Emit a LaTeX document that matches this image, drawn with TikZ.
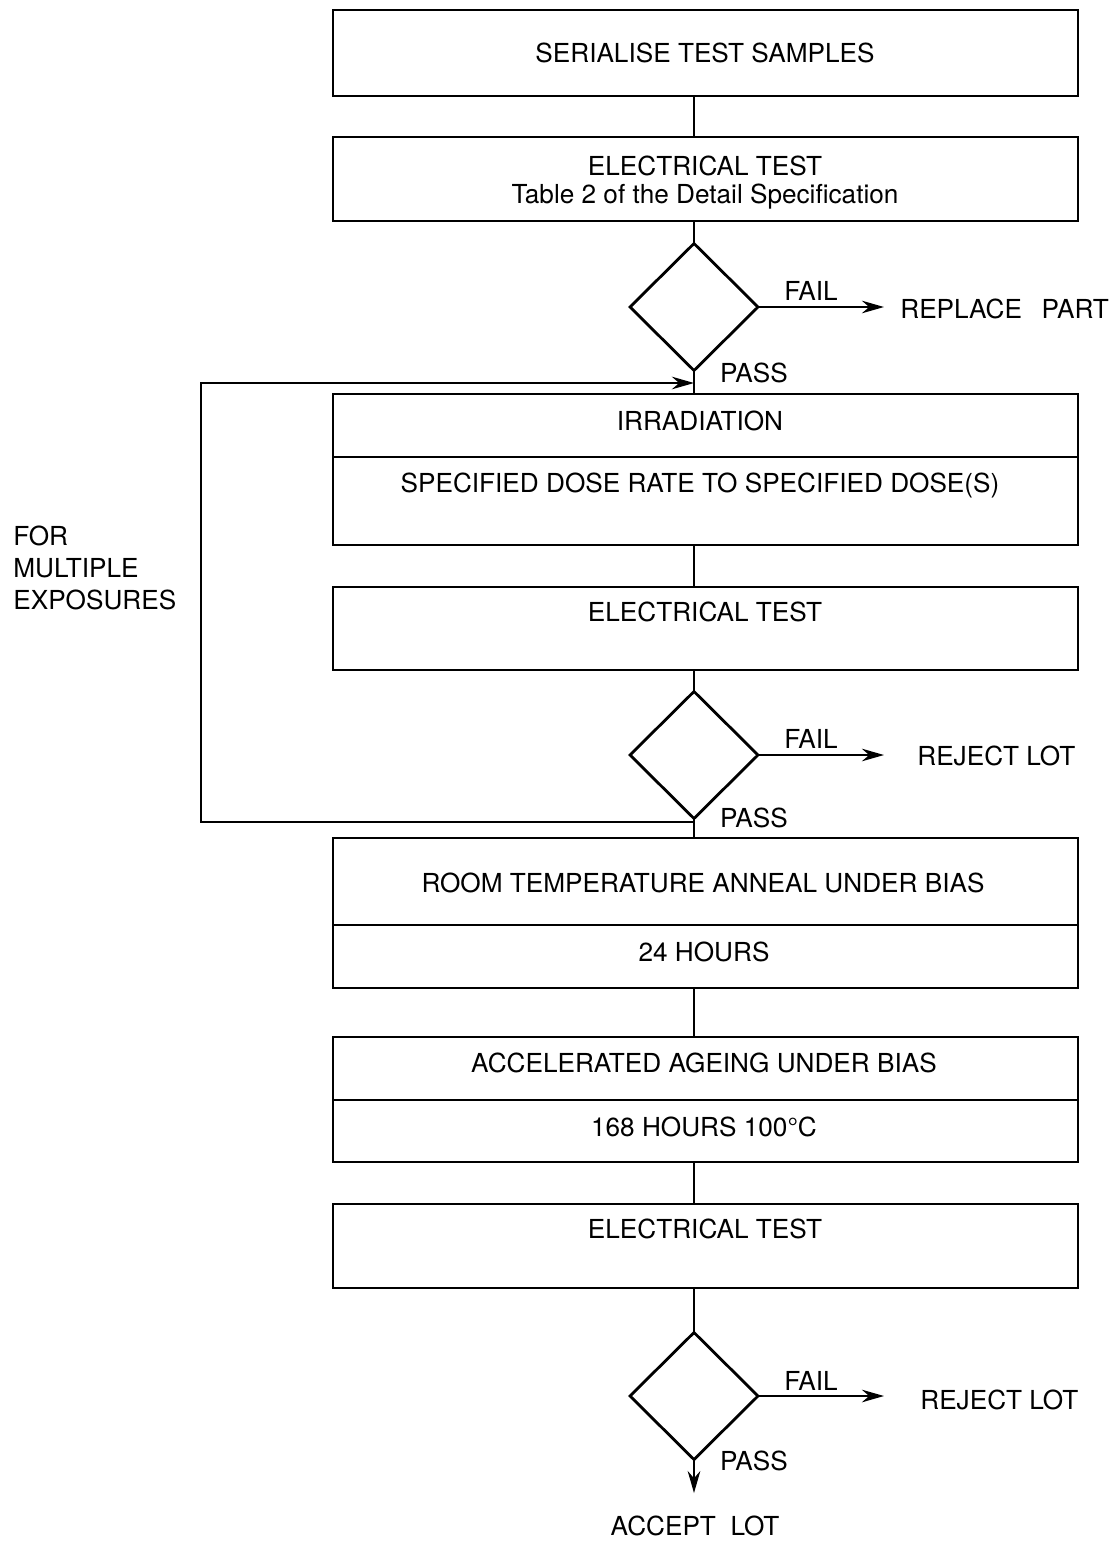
\documentclass[tikz,border=0pt]{standalone}
\usepackage{fontspec}
\setmainfont{TeX Gyre Heros}
\usetikzlibrary{arrows.meta,calc,fit,shapes.geometric}

\begin{document}
\begin{tikzpicture}[
    x=0.02cm, y=-0.02cm,
    line/.style={line width=1.6pt},
    box/.style={draw, line width=1.6pt, inner sep=0pt, outer sep=0pt},
    decision/.style={draw, diamond, line width=1.6pt, inner sep=0pt, outer sep=0pt,
        minimum width=2.56cm, minimum height=2.54cm},
    flow/.style={line width=1.6pt, -{Stealth[length=4.4mm,width=2.5mm]}},
    txt/.style={anchor=base, inner sep=0pt, font=\fontsize{14.9}{18.1}\selectfont},
    outcome/.style={txt, anchor=base west}
]

\useasboundingbox (0,0) rectangle (1116,1542);

% -------------------------------------------------
% Process boxes
% -------------------------------------------------

\node[box, fit={(333,10) (1078,96)}] (ser) {};
\node[box, fit={(333,137) (1078,221)}] (et1) {};
\node[box, fit={(333,394) (1078,545)}] (irr) {};
\node[box, fit={(333,587) (1078,670)}] (et2) {};
\node[box, fit={(333,838) (1078,988)}] (anl) {};
\node[box, fit={(333,1037) (1078,1162)}] (age) {};
\node[box, fit={(333,1204) (1078,1288)}] (et3) {};

% Dividers
\draw[line] (irr.west |- 0,457) -- (irr.east |- 0,457);
\draw[line] (anl.west |- 0,925) -- (anl.east |- 0,925);
\draw[line] (age.west |- 0,1100) -- (age.east |- 0,1100);

% Box texts
\node[txt] (serT) at (705,62) {SERIALISE TEST SAMPLES};
\node[txt] (et1T) at (705,175) {ELECTRICAL TEST};
\node[txt] (et1S) at (705,203) {Table 2 of the Detail Specification};
\node[txt] (irrT) at (700,430) {IRRADIATION};
\node[txt] (irrS) at (700,492) {SPECIFIED DOSE RATE TO SPECIFIED DOSE(S)};
\node[txt] (et2T) at (705,621) {ELECTRICAL TEST};
\node[txt] (anlT) at (703,892) {ROOM TEMPERATURE ANNEAL UNDER BIAS};
\node[txt] (anlS) at (704,961) {24 HOURS};
\node[txt] (ageT) at (704,1072) {ACCELERATED AGEING UNDER BIAS};
\node[txt] (ageS) at (704,1136) {168 HOURS 100°C};
\node[txt] (et3T) at (705,1238) {ELECTRICAL TEST};

% -------------------------------------------------
% Decisions
% -------------------------------------------------

\node[decision] (dec1) at (694,307) {};
\node[decision] (dec2) at (694,755) {};
\node[decision] (dec3) at (694,1396) {};

\node[txt] (fail1) at (811,300) {FAIL};
\node[txt] (pass1) at (754,382) {PASS};
\node[txt] (fail2) at (811,748) {FAIL};
\node[txt] (pass2) at (754,827) {PASS};
\node[txt] (fail3) at (811,1390) {FAIL};
\node[txt] (pass3) at (754,1470) {PASS};

\node[outcome] (rep) at (900,318) {REPLACE\hspace{0.75em}PART};
\node[outcome] (rej2) at (917,765) {REJECT LOT};
\node[outcome] (rej3) at (920,1409) {REJECT LOT};
\node[txt] (acc) at (695,1535) {ACCEPT\ \ LOT};

\node[txt, anchor=north west, align=left] (multi) at (13,526)
{FOR\\MULTIPLE\\EXPOSURES};

% -------------------------------------------------
% Connectors
% -------------------------------------------------

\draw[line] (ser.south -| dec1.north) -- (et1.north -| dec1.north);
\draw[line] (et1.south -| dec1.north) -- (dec1.north);
\draw[line] (dec1.south) -- (irr.north -| dec1.south);
\draw[line] (irr.south -| dec2.north) -- (et2.north -| dec2.north);
\draw[line] (et2.south -| dec2.north) -- (dec2.north);
\draw[line] (dec2.south) -- (anl.north -| dec2.south);
\draw[line] (anl.south -| dec2.south) -- (age.north -| dec2.south);
\draw[line] (age.south -| dec3.north) -- (et3.north -| dec3.north);
\draw[line] (et3.south -| dec3.north) -- (dec3.north);

\draw[flow, shorten >=0.32cm] (dec1.east) -- (dec1.east -| rep.west);
\draw[flow, shorten >=0.66cm] (dec2.east) -- (dec2.east -| rej2.west);
\draw[flow, shorten >=0.72cm] (dec3.east) -- (dec3.east -| rej3.west);
\draw[flow, shorten >=0.44cm] (dec3.south) -- (dec3.south |- acc.north);

% Loop back for multiple exposures
\coordinate (loopin) at (694,383);
\coordinate (loopout) at (694,822);
\coordinate (loopx) at (201,600);

\draw[flow] (loopout) -- (loopx |- loopout) -- (loopx |- loopin) -- (loopin);

\end{tikzpicture}
\end{document}
